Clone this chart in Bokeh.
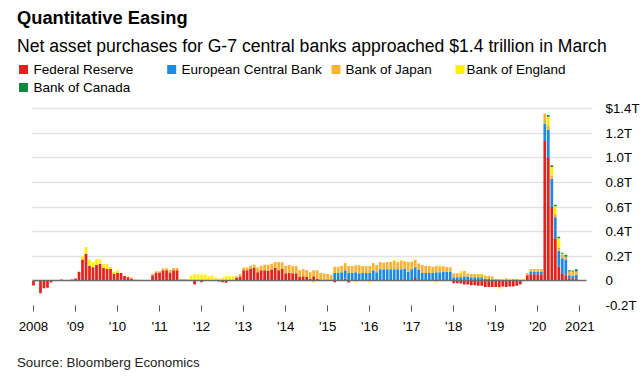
import numpy as np
from bokeh.plotting import figure
from bokeh.layouts import column
from bokeh.models import (ColumnDataSource, FixedTicker, Span, Range1d, Label, BoxAnnotation,
                          Title, Grid)
from bokeh.core.properties import value
from bokeh.embed import file_html
from bokeh.resources import INLINE

# ---------------- texts ----------------
title_text = "Quantitative Easing"
subtitle_text = "Net asset purchases for G-7 central banks approached $1.4 trillion in March"
source_text = "Source: Bloomberg Economics"

# ---------------- data (US$ trillions, monthly, Jan 2008 - Dec 2020) ----------------
first_year = 2008

fed = [
    -0.038, -0.003, -0.100, -0.060, -0.055, -0.014, 0.000, 0.000, 0.011, 0.000, 0.000, 0.011,  # 2008
    0.019, 0.075, 0.175, 0.218, 0.123, 0.110, 0.130, 0.140, 0.105, 0.097, 0.097, 0.057,       # 2009
    0.065, 0.065, 0.040, 0.030, 0.019, 0.003, 0.000, 0.000, 0.000, 0.000, 0.046, 0.068,       # 2010
    0.068, 0.086, 0.086, 0.068, 0.086, 0.086, 0.005, 0.003, 0.000, 0.000, -0.030, 0.000,      # 2011
    -0.010, 0.000, 0.000, 0.000, 0.000, -0.005, -0.010, -0.015, 0.000, 0.000, 0.025, 0.035,   # 2012
    0.086, 0.086, 0.097, 0.108, 0.070, 0.086, 0.086, 0.081, 0.092, 0.105, 0.086, 0.097,       # 2013
    0.062, 0.067, 0.062, 0.062, 0.032, 0.038, 0.032, 0.016, 0.038, 0.019, 0.005, 0.000,       # 2014
    0.000, 0.000, -0.010, 0.000, 0.000, 0.020, -0.012, 0.000, 0.000, 0.000, 0.000, 0.000,     # 2015
    0.000, 0.008, 0.000, 0.000, 0.000, 0.000, 0.000, 0.000, 0.000, 0.000, 0.005, 0.000,       # 2016
    0.000, 0.024, 0.000, 0.000, 0.000, 0.000, 0.000, 0.000, 0.000, 0.000, 0.000, 0.000,       # 2017
    -0.020, -0.020, -0.022, -0.030, -0.030, -0.035, -0.035, -0.040, -0.040, -0.050, -0.050, -0.050,  # 2018
    -0.050, -0.050, -0.046, -0.050, -0.045, -0.045, -0.040, -0.030, 0.000, 0.045, 0.055, 0.055,      # 2019
    0.055, 0.055, 1.137, 1.000, 0.600, 0.346, 0.117, 0.063, 0.046, 0.022, 0.022, 0.022,       # 2020
]

ecb = [
    0.000, 0.000, 0.000, 0.000, 0.000, 0.000, 0.000, 0.000, 0.000, 0.000, 0.000, 0.000,  # 2008
    0.000, 0.000, 0.000, 0.000, 0.000, 0.000, 0.000, 0.000, 0.000, 0.000, 0.000, 0.000,  # 2009
    0.000, 0.000, 0.000, 0.000, 0.000, 0.000, 0.000, 0.000, 0.000, 0.000, 0.000, 0.000,  # 2010
    0.000, 0.000, 0.000, 0.000, 0.000, 0.000, 0.000, 0.000, 0.000, 0.000, 0.000, 0.000,  # 2011
    0.000, 0.000, 0.000, 0.000, 0.000, 0.000, 0.000, 0.000, 0.000, 0.000, 0.000, 0.000,  # 2012
    0.000, 0.000, 0.000, 0.000, 0.000, 0.000, 0.000, 0.000, 0.000, 0.000, 0.000, 0.000,  # 2013
    0.000, 0.000, 0.000, 0.000, 0.000, 0.000, 0.000, 0.000, 0.000, 0.000, 0.000, 0.000,  # 2014
    0.000, 0.000, 0.065, 0.065, 0.070, 0.066, 0.065, 0.065, 0.070, 0.062, 0.065, 0.065,  # 2015
    0.065, 0.078, 0.070, 0.094, 0.094, 0.094, 0.094, 0.094, 0.094, 0.094, 0.094, 0.076,  # 2016
    0.094, 0.086, 0.092, 0.065, 0.065, 0.065, 0.065, 0.070, 0.070, 0.073, 0.073, 0.073,  # 2017
    0.030, 0.030, 0.030, 0.035, 0.035, 0.030, 0.030, 0.030, 0.030, 0.016, 0.016, 0.011,  # 2018
    0.000, 0.000, 0.000, 0.000, 0.000, 0.000, 0.000, 0.000, 0.000, 0.000, 0.022, 0.022,  # 2019
    0.022, 0.022, 0.141, 0.226, 0.231, 0.171, 0.128, 0.122, 0.123, 0.024, 0.019, 0.027,  # 2020
]

boj = [
    0.000, 0.000, 0.000, 0.000, 0.000, 0.000, 0.000, 0.000, 0.000, 0.000, 0.000, 0.000,  # 2008
    0.000, 0.000, 0.000, 0.000, 0.000, 0.000, 0.000, 0.000, 0.000, 0.000, 0.000, 0.000,  # 2009
    0.000, 0.000, 0.000, 0.008, 0.008, 0.008, 0.010, 0.000, 0.008, 0.008, 0.010, 0.010,  # 2010
    0.010, 0.014, 0.017, 0.021, 0.019, 0.019, 0.010, 0.013, 0.013, 0.008, 0.008, 0.008,  # 2011
    0.008, 0.008, 0.008, 0.008, 0.008, 0.008, 0.008, 0.010, 0.008, 0.008, 0.013, 0.022,  # 2012
    0.022, 0.022, 0.027, 0.024, 0.038, 0.038, 0.046, 0.051, 0.048, 0.049, 0.068, 0.054,  # 2013
    0.062, 0.063, 0.060, 0.060, 0.054, 0.059, 0.057, 0.054, 0.048, 0.067, 0.060, 0.060,  # 2014
    0.057, 0.049, 0.051, 0.051, 0.054, 0.060, 0.057, 0.057, 0.057, 0.065, 0.057, 0.057,  # 2015
    0.057, 0.060, 0.059, 0.060, 0.054, 0.060, 0.060, 0.070, 0.060, 0.070, 0.060, 0.078,  # 2016
    0.060, 0.062, 0.049, 0.065, 0.057, 0.057, 0.051, 0.051, 0.050, 0.046, 0.040, 0.038,  # 2017
    0.032, 0.032, 0.032, 0.046, 0.026, 0.027, 0.027, 0.027, 0.027, 0.027, 0.025, 0.024,  # 2018
    0.016, 0.016, 0.010, 0.020, 0.010, 0.015, 0.015, 0.010, 0.005, 0.019, 0.019, 0.019,  # 2019
    0.019, 0.019, 0.082, 0.040, 0.027, 0.027, 0.027, 0.025, 0.027, 0.030, 0.035, 0.027,  # 2020
]

boe = [
    0.000, 0.000, 0.000, 0.000, 0.000, 0.000, 0.000, 0.000, 0.000, 0.000, 0.000, 0.000,  # 2008
    0.000, 0.000, 0.025, 0.057, 0.050, 0.043, 0.048, 0.033, 0.033, 0.041, 0.019, 0.019,  # 2009
    0.024, 0.000, 0.000, 0.000, 0.000, 0.000, 0.000, 0.000, 0.000, 0.000, 0.000, 0.000,  # 2010
    0.000, 0.000, 0.000, 0.000, 0.000, 0.000, 0.000, 0.000, 0.000, 0.035, 0.047, 0.045,  # 2011
    0.045, 0.045, 0.030, 0.035, 0.020, 0.010, 0.020, 0.030, 0.030, 0.030, 0.000, 0.000,  # 2012
    0.000, 0.000, 0.000, 0.000, 0.000, 0.000, 0.000, 0.000, 0.000, 0.000, 0.000, 0.000,  # 2013
    0.000, 0.000, 0.000, 0.000, 0.000, 0.000, 0.000, 0.000, -0.012, 0.000, 0.000, 0.000, # 2014
    0.000, 0.000, 0.000, 0.000, 0.000, 0.000, 0.000, 0.000, -0.010, 0.000, 0.000, 0.000, # 2015
    -0.010, 0.000, 0.000, 0.000, 0.000, 0.000, 0.000, 0.005, 0.000, 0.005, 0.000, 0.000, # 2016
    0.005, 0.000, 0.000, 0.000, 0.000, 0.000, 0.000, -0.010, 0.006, 0.000, 0.000, 0.000, # 2017
    0.000, 0.000, 0.016, 0.000, 0.000, 0.000, 0.000, 0.000, 0.000, 0.000, 0.000, 0.000,  # 2018
    0.000, -0.012, 0.008, 0.000, 0.008, 0.000, 0.000, 0.000, 0.015, 0.000, 0.000, 0.000, # 2019
    0.000, 0.000, 0.000, 0.068, 0.068, 0.063, 0.074, 0.010, 0.000, 0.000, 0.000, 0.000,  # 2020
]

boc = [
    0.000, 0.000, 0.000, 0.000, 0.000, 0.000, 0.000, 0.000, 0.000, 0.000, 0.000, 0.000,  # 2008
    0.000, 0.000, 0.000, 0.000, 0.000, 0.000, 0.000, 0.000, 0.000, 0.000, 0.000, 0.000,  # 2009
    0.000, 0.000, 0.000, 0.000, 0.000, 0.000, 0.000, 0.000, 0.000, 0.000, 0.000, 0.000,  # 2010
    0.000, 0.000, 0.000, 0.000, 0.000, 0.000, 0.000, 0.000, 0.000, 0.000, 0.000, 0.000,  # 2011
    0.000, 0.000, 0.000, 0.000, 0.000, 0.000, 0.000, 0.000, 0.000, 0.000, 0.000, 0.000,  # 2012
    0.000, 0.000, 0.000, 0.000, 0.000, 0.000, 0.000, 0.000, 0.000, 0.000, 0.000, 0.000,  # 2013
    0.000, 0.000, 0.000, 0.000, 0.000, 0.000, 0.000, 0.000, 0.000, 0.000, 0.000, 0.000,  # 2014
    0.000, 0.000, 0.000, 0.000, 0.000, 0.000, 0.000, 0.000, 0.000, 0.000, 0.000, 0.000,  # 2015
    0.000, 0.000, 0.000, 0.000, 0.000, 0.000, 0.000, 0.000, 0.000, 0.000, 0.000, 0.000,  # 2016
    0.000, 0.000, 0.000, 0.000, 0.000, 0.000, 0.000, 0.000, 0.000, 0.000, 0.000, 0.000,  # 2017
    0.000, 0.000, 0.000, 0.000, 0.000, 0.000, 0.000, 0.000, 0.000, 0.000, 0.000, 0.000,  # 2018
    0.000, 0.000, 0.000, 0.000, 0.000, 0.000, 0.000, 0.000, 0.000, 0.000, 0.000, 0.000,  # 2019
    0.000, 0.000, 0.000, 0.014, 0.014, 0.013, 0.013, 0.008, 0.016, 0.011, 0.008, 0.019,  # 2020
]

series_names = ["Federal Reserve", "European Central Bank", "Bank of Japan",
                "Bank of England", "Bank of Canada"]
series_values = [fed, ecb, boj, boe, boc]
series_colors = ["#E3221C", "#1C8BDF", "#F9B233", "#FFF100", "#108A3F"]

x_tick_values = [2008, 2009, 2010, 2011, 2012, 2013, 2014, 2015, 2016, 2017, 2018, 2019, 2020, 2021]
x_tick_labels = ["2008", "'09", "'10", "'11", "'12", "'13", "'14", "'15", "'16", "'17",
                 "'18", "'19", "'20", "2021"]
y_tick_values = [-0.2, 0, 0.2, 0.4, 0.6, 0.8, 1.0, 1.2, 1.4]
y_tick_labels = ["-0.2T", "0", "0.2T", "0.4T", "0.6T", "0.8T", "1.0T", "1.2T", "$1.4T"]
grid_values = [0.2, 0.4, 0.6, 0.8, 1.0, 1.2, 1.4]

# ---------------- layout constants (page pixels) ----------------
FONT = "Liberation Sans"
TXT = "#000000"
W = 642
H_MAIN, H_FOOT = 345, 36
FR_L, FR_R, FR_T, FR_B = 16, 593, 60, 305     # plot frame edges on the page
PX_PER_YEAR = 42.1
PX_PER_T = 123.0
X0_PAGE = 33.0                                 # page x of the 2008 tick

x_start = first_year - (X0_PAGE - FR_L) / PX_PER_YEAR
x_end = first_year + (FR_R - X0_PAGE) / PX_PER_YEAR
y_start = -0.2
y_end = y_start + (FR_B - FR_T) / PX_PER_T
zero_end = 2021.15          # the zero line stops a little short of the frame's right edge


def sx(px):  # page x -> screen units relative to frame left
    return px - FR_L


def sy(py):  # page y -> screen units relative to frame bottom (upwards)
    return FR_B - py


p = figure(width=W, height=H_MAIN, title=None,
           x_range=Range1d(x_start, x_end), y_range=Range1d(y_start, y_end),
           y_axis_location="right", output_backend="svg", toolbar_location=None, tools="",
           min_border_left=FR_L, min_border_right=W - FR_R, min_border_top=FR_T,
           min_border_bottom=H_MAIN - FR_B, outline_line_color=None)

# ---- stacked bars (positives stack up, negatives stack down) ----
n = len(fed)
month_x = np.array([first_year + i / 12.0 for i in range(n)])
pos_base = np.zeros(n)
neg_base = np.zeros(n)
for name, vals, col in zip(series_names, series_values, series_colors):
    v = np.array(vals, dtype=float)
    bottom = np.where(v >= 0, pos_base, neg_base + v)
    top = np.where(v >= 0, pos_base + v, neg_base)
    pos_base = pos_base + np.clip(v, 0, None)
    neg_base = neg_base + np.clip(v, None, 0)
    src = ColumnDataSource(dict(x=month_x, bottom=bottom, top=top))
    p.vbar(x="x", bottom="bottom", top="top", width=0.78 / 12, source=src,
           fill_color=col, line_color=None)

# ---- grid / zero line ----
p.xgrid.visible = False
p.ygrid.ticker = FixedTicker(ticks=grid_values)
p.ygrid.grid_line_color = "#e2e2e2"
p.ygrid.grid_line_width = 1.3
try:
    p.ygrid.cross_bounds = (first_year - 0.02, x_end)
    zero_grid = Grid(dimension=1, ticker=FixedTicker(ticks=[0]), grid_line_color="#6b6b6b",
                     grid_line_width=1.5, cross_bounds=(first_year - 0.02, zero_end), level="guide")
    p.add_layout(zero_grid)
    low_grid = Grid(dimension=1, ticker=FixedTicker(ticks=[-0.2]), grid_line_color="#d9d9d9",
                    grid_line_width=1.3, cross_bounds=(zero_end + 0.02, x_end), level="guide")
    p.add_layout(low_grid)
except Exception:
    p.add_layout(Span(location=0, dimension="width", line_color="#6b6b6b", line_width=1.5))

# ---- axes ----
p.yaxis.ticker = FixedTicker(ticks=y_tick_values)
p.yaxis.major_label_overrides = {v: l for v, l in zip(y_tick_values, y_tick_labels)}
p.yaxis.axis_line_color = None
p.yaxis.major_tick_line_color = None
p.yaxis.minor_tick_line_color = None
p.yaxis.major_label_standoff = 7
p.yaxis.major_label_text_font = FONT
p.yaxis.major_label_text_font_size = "13.3px"
p.yaxis.major_label_text_color = TXT

p.xaxis.ticker = FixedTicker(ticks=x_tick_values)
p.xaxis.major_label_overrides = {v: l for v, l in zip(x_tick_values, x_tick_labels)}
p.xaxis.axis_line_color = None
p.xaxis.major_tick_in = 0
p.xaxis.major_tick_out = 6
p.xaxis.major_tick_line_color = "#555555"
p.xaxis.minor_tick_line_color = None
p.xaxis.major_label_standoff = 7
p.xaxis.major_label_text_font = FONT
p.xaxis.major_label_text_font_size = "13.3px"
p.xaxis.major_label_text_color = TXT

# ---- title and subtitle (panels above the frame; first added sits nearest the frame) ----
p.add_layout(Title(text=subtitle_text, align="left", offset=0.5, standoff=8, vertical_align="middle",
                   text_font=FONT, text_font_size="17.6px", text_font_style="normal",
                   text_color=TXT), "above")
p.add_layout(Title(text=title_text, align="left", offset=0.5, standoff=4, vertical_align="middle",
                   text_font=FONT, text_font_size="18.3px", text_font_style="bold",
                   text_color=TXT), "above")

# ---- legend (swatch + label), inside the frame's top band ----
leg_text_x = [33, 181, 345, 466, 33]
leg_sq_x = [18.5, 166.7, 331, 455, 18.5]
leg_y = [69, 69, 69, 69, 87]
for name, col, tx, qx, ly in zip(series_names, series_colors, leg_text_x, leg_sq_x, leg_y):
    p.add_layout(BoxAnnotation(left=sx(qx), right=sx(qx + 9), bottom=sy(ly + 4.5), top=sy(ly - 4.5),
                               left_units="screen", right_units="screen",
                               bottom_units="screen", top_units="screen",
                               fill_color=col, fill_alpha=1.0, line_color=None))
    p.add_layout(Label(x=sx(tx), y=sy(ly), x_units="screen", y_units="screen", text=name,
                       text_font=FONT, text_font_size="13.5px",
                       text_baseline="middle", text_align="left", text_color=TXT))

# ---- footer with the source line ----
foot = figure(width=W, height=H_FOOT, x_range=Range1d(FR_L, FR_R), y_range=Range1d(H_FOOT, 0),
              title=None, output_backend="svg", toolbar_location=None, tools="",
              min_border_left=FR_L, min_border_right=W - FR_R, min_border_top=0, min_border_bottom=0,
              x_axis_location=None, y_axis_location=None, outline_line_color=None)
foot.grid.visible = False
foot.text(x=[16.5], y=[362 - H_MAIN], text=[source_text], text_font=value(FONT),
          text_font_size="13.3px", text_baseline="middle", text_align="left", text_color="#222222")

layout = column(p, foot, spacing=0)
open("out.html", "w").write(file_html(layout, INLINE))
